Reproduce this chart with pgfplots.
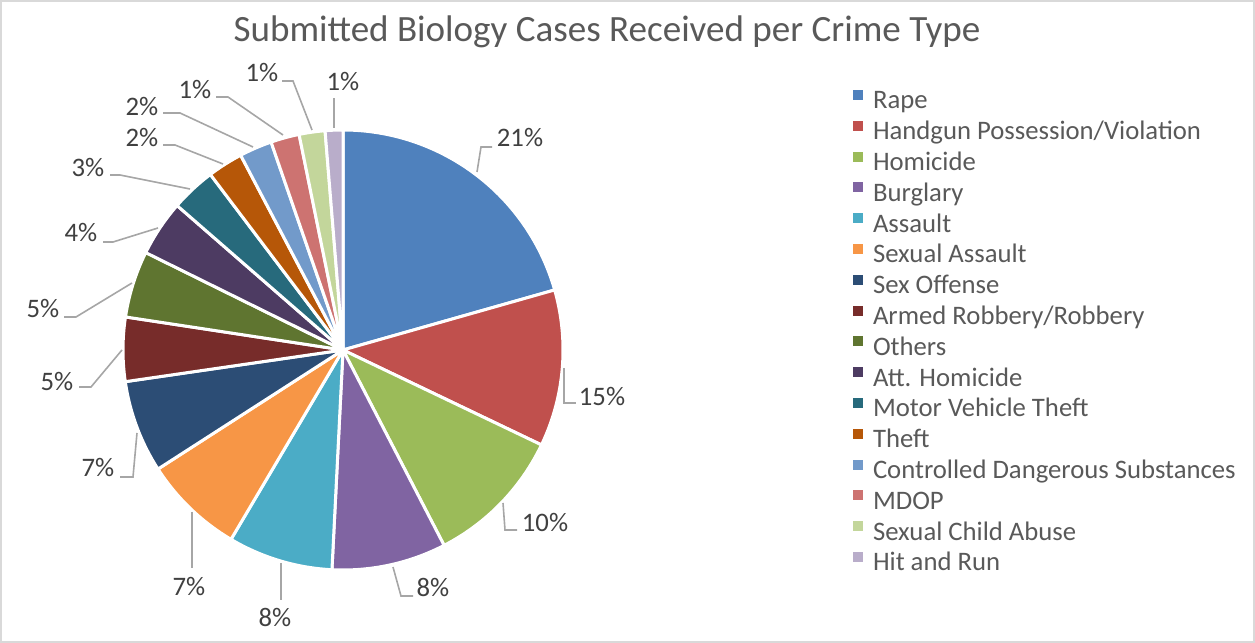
\documentclass[border=0pt]{standalone}
\usepackage{pgfplots}
\pgfplotsset{compat=1.18}
\usepackage{pgfplotstable}
\usepackage{fontspec}
\setmainfont{Carlito}
\definecolor{cRape}{HTML}{4F81BD}
\definecolor{cHand}{HTML}{C0504D}
\definecolor{cHom}{HTML}{9BBB59}
\definecolor{cBurg}{HTML}{8064A2}
\definecolor{cAss}{HTML}{4BACC6}
\definecolor{cSexA}{HTML}{F79646}
\definecolor{cSexO}{HTML}{2C4D75}
\definecolor{cArm}{HTML}{772C2A}
\definecolor{cOth}{HTML}{5F7530}
\definecolor{cAtt}{HTML}{4D3B62}
\definecolor{cMVT}{HTML}{276A7C}
\definecolor{cTheft}{HTML}{B65708}
\definecolor{cCDS}{HTML}{729ACA}
\definecolor{cMDOP}{HTML}{CD7371}
\definecolor{cSCA}{HTML}{C3D69B}
\definecolor{cHR}{HTML}{B9ADCA}
\definecolor{txtA}{HTML}{404040}
\definecolor{txtB}{HTML}{595959}
\definecolor{lead}{HTML}{A6A6A6}
% share of the pie (angle) per crime type, clockwise from 12 o'clock
\pgfplotstableread[col sep=comma]{
share,col,name
20.6,cRape,Rape
11.5,cHand,Handgun Possession/Violation
10.3,cHom,Homicide
8.4,cBurg,Burglary
7.7,cAss,Assault
7.4,cSexA,Sexual Assault
6.8,cSexO,Sex Offense
4.7,cArm,Armed Robbery/Robbery
4.9,cOth,Others
4.1,cAtt,Att. Homicide
3.3,cMVT,Motor Vehicle Theft
2.6,cTheft,Theft
2.4,cCDS,Controlled Dangerous Substances
2.1,cMDOP,MDOP
1.9,cSCA,Sexual Child Abuse
1.3,cHR,Hit and Run
}\pietable
\pgfplotstablegetrowsof{\pietable}
\pgfmathtruncatemacro\nrows{\pgfplotsretval-1}
\begin{document}
\begin{tikzpicture}
\begin{axis}[
  scale only axis, width=627.5bp, height=321.5bp,
  xmin=0, xmax=1255, ymin=0, ymax=643,
  hide axis, clip=false,
  legend style={at={(axis cs:853,553)}, anchor=north west, draw=none, fill=none,
    inner sep=0pt, outer sep=0pt, row sep=2.9bp,
    font=\fontsize{13.4}{15}\selectfont\color{txtB},
    nodes={inner sep=0pt, outer sep=0pt, text height=9bp, text depth=3bp},
    /tikz/every odd column/.append style={column sep=5bp}},
  legend cell align=left,
  legend image code/.code={\fill[#1, draw=none] (0bp,1.5bp) rectangle (5bp,6.5bp);},
]
\xdef\cum{0}
\pgfplotsforeachungrouped \i in {0,...,\nrows}{
  \pgfplotstablegetelem{\i}{share}\of{\pietable}\let\p\pgfplotsretval
  \pgfplotstablegetelem{\i}{col}\of{\pietable}\let\c\pgfplotsretval
  \pgfplotstablegetelem{\i}{name}\of{\pietable}\let\n\pgfplotsretval
  \pgfmathsetmacro\a{90-3.6*\cum}
  \pgfmathsetmacro\b{90-3.6*(\cum+\p)}
  \edef\temp{\noexpand\addplot[fill=\c, draw=white, line width=1.5bp, line join=round,
     domain=\b:\a, samples=80, variable=\noexpand\t]
     ({343+220*cos(\noexpand\t)},{293+220*sin(\noexpand\t)}) -- (axis cs:343,293) -- cycle;
     \noexpand\addlegendentry{\n}}
  \temp
  \pgfmathparse{\cum+\p}\xdef\cum{\pgfmathresult}
}
% frame
\draw[color=black!15, line width=1bp] (axis cs:1,1) rectangle (axis cs:1254,642);
% title
\node[font=\fontsize{18.6}{22}\selectfont, text=txtB] at (axis cs:607,611) {Submitted Biology Cases Received per Crime Type};
% leader lines
\begin{scope}[lead, line width=0.8bp]
\draw (axis cs:477,471) -- (axis cs:481,496) -- (axis cs:492,496);
\draw (axis cs:564,275) -- (axis cs:564,240) -- (axis cs:576,240);
\draw (axis cs:503,140) -- (axis cs:505,113) -- (axis cs:517,113);
\draw (axis cs:393,76) -- (axis cs:401,47) -- (axis cs:413,47);
\draw (axis cs:281,80) -- (axis cs:281,43);
\draw (axis cs:192,131) -- (axis cs:192,75);
\draw (axis cs:137,210) -- (axis cs:133,166) -- (axis cs:120,166);
\draw (axis cs:122,293) -- (axis cs:91,256) -- (axis cs:79,256);
\draw (axis cs:132,360) -- (axis cs:76,326) -- (axis cs:64,326);
\draw (axis cs:158,415) -- (axis cs:113,401) -- (axis cs:103,401);
\draw (axis cs:190,454) -- (axis cs:120,468) -- (axis cs:110,468);
\draw (axis cs:223,479) -- (axis cs:175,498) -- (axis cs:163,498);
\draw (axis cs:253,496) -- (axis cs:180,530) -- (axis cs:163,530);
\draw (axis cs:283,508) -- (axis cs:228,546) -- (axis cs:216,546);
\draw (axis cs:312,513) -- (axis cs:293,562) -- (axis cs:282,562);
\draw (axis cs:334,515) -- (axis cs:334,545);
\end{scope}
% data labels
\begin{scope}[every node/.style={font=\fontsize{13.4}{15}\selectfont, text=txtA, inner sep=0pt}]
\node at (axis cs:520,505) {21\%};
\node at (axis cs:602,246) {15\%};
\node at (axis cs:545,120) {10\%};
\node at (axis cs:433,56) {8\%};
\node at (axis cs:275,26) {8\%};
\node at (axis cs:189,56) {7\%};
\node at (axis cs:98,175) {7\%};
\node at (axis cs:57,261) {5\%};
\node at (axis cs:43,334) {5\%};
\node at (axis cs:81,410) {4\%};
\node at (axis cs:88,475) {3\%};
\node at (axis cs:142,505) {2\%};
\node at (axis cs:142,536) {2\%};
\node at (axis cs:195,553) {1\%};
\node at (axis cs:262,570) {1\%};
\node at (axis cs:343,561) {1\%};
\end{scope}
\end{axis}
\end{tikzpicture}
\end{document}
